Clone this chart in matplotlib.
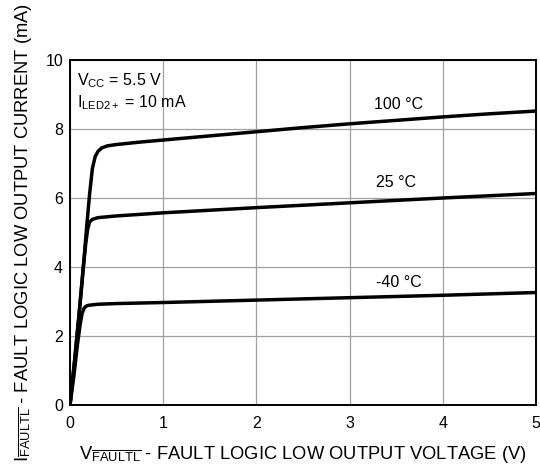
import numpy as np
import matplotlib
matplotlib.use('Agg')
import matplotlib.pyplot as plt

plt.rcParams['font.family'] = ['Liberation Sans', 'DejaVu Sans']
plt.rcParams['mathtext.fontset'] = 'custom'
plt.rcParams['mathtext.rm'] = 'Liberation Sans'
plt.rcParams['mathtext.it'] = 'Liberation Sans'

# --- data ---
v_100 = [0, 0.05, 0.10, 0.14, 0.18, 0.21, 0.24, 0.27, 0.30, 0.34, 0.40, 0.5, 0.75,
         1, 1.5, 2, 2.5, 3, 3.5, 4, 4.5, 5]
i_100 = [0, 1.3, 2.7, 3.9, 5.2, 6.1, 6.85, 7.2, 7.35, 7.45, 7.51, 7.55, 7.62,
         7.68, 7.8, 7.92, 8.04, 8.15, 8.25, 8.35, 8.44, 8.52]

v_25 = [0, 0.05, 0.10, 0.14, 0.17, 0.19, 0.21, 0.24, 0.3, 0.5, 1, 2, 3, 4, 5]
i_25 = [0, 1.3, 2.7, 3.9, 4.7, 5.1, 5.3, 5.38, 5.43, 5.48, 5.57, 5.72, 5.86, 6.0, 6.13]

v_m40 = [0, 0.04, 0.08, 0.11, 0.13, 0.15, 0.17, 0.2, 0.3, 0.5, 1, 2, 3, 4, 5]
i_m40 = [0, 0.8, 1.75, 2.35, 2.65, 2.8, 2.86, 2.89, 2.92, 2.94, 2.97, 3.04, 3.11, 3.18, 3.26]

curves = [(v_100, i_100, '100 °C', 3.53, 8.7),
          (v_25, i_25, '25 °C', 3.5, 6.45),
          (v_m40, i_m40, '-40 °C', 3.53, 3.56)]

fig = plt.figure(figsize=(5.40, 4.69), dpi=100)
ax = fig.add_axes([0.1296, 0.1365, 0.863, 0.7356])

for v, i, lbl, tx, ty in curves:
    ax.plot(v, i, color='black', lw=2.5, solid_joinstyle='round',
            solid_capstyle='round', zorder=3)
    ax.text(tx, ty, lbl, fontsize=11.5, ha='center', va='center')

ax.set_xlim(0, 5)
ax.set_ylim(0, 10)
ax.set_xticks(range(0, 6))
ax.set_yticks(range(0, 11, 2))
ax.grid(True, color='#a0a0a0', lw=0.9)
ax.set_axisbelow(True)
ax.tick_params(length=0, labelsize=11.5, pad=5)
ax.tick_params(axis='x', pad=8)
for s in ax.spines.values():
    s.set_linewidth(1.4)
    s.set_color('black')

ax.text(0.08, 9.4, r'V$_{\mathregular{CC}}$ = 5.5 V', fontsize=11.5, va='center')
ax.text(0.08, 8.75, r'I$_{\mathregular{LED2+}}$ = 10 mA', fontsize=11.5, va='center')

ax.set_xlabel(r'V$_{\overline{\mathregular{FAULTL}}}$ - FAULT LOGIC LOW OUTPUT VOLTAGE (V)',
              fontsize=13.2, labelpad=9)
ax.set_ylabel(r'I$_{\overline{\mathregular{FAULTL}}}$ - FAULT LOGIC LOW OUTPUT CURRENT (mA)',
              fontsize=13.2, labelpad=8)

fig.savefig('out.png', dpi=100)
